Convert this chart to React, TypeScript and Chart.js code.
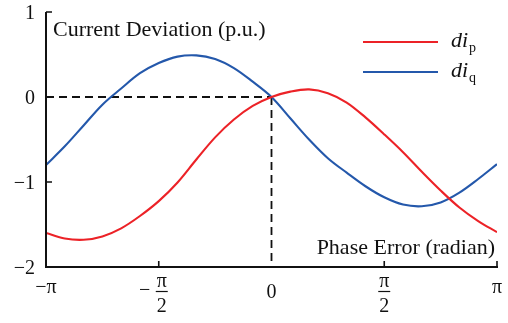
import { useEffect, useRef } from "react";
import { Chart, registerables } from "chart.js";

Chart.register(...registerables);

const PI = Math.PI;

// Phase error samples, in twelfths of π (−π … π)
const phaseTwelfths = [
  -12, -11, -10, -9, -8, -7, -6, -5, -4, -3, -2, -1, 0,
  1, 2, 3, 4, 5, 6, 7, 8, 9, 10, 11, 12,
];

// Current deviation of the p-axis component (p.u.)
const diP = [
  -1.6, -1.665, -1.68, -1.64, -1.545, -1.4, -1.225, -1.005, -0.735, -0.475,
  -0.265, -0.105, 0.0, 0.063, 0.09, 0.045, -0.065, -0.24, -0.44, -0.65,
  -0.88, -1.1, -1.3, -1.46, -1.59,
];

// Current deviation of the q-axis component (p.u.)
const diQ = [
  -0.8, -0.58, -0.335, -0.09, 0.1, 0.28, 0.4, 0.475, 0.49, 0.447, 0.34, 0.18,
  0.0, -0.25, -0.5, -0.72, -0.89, -1.05, -1.18, -1.265, -1.285, -1.24,
  -1.125, -0.965, -0.79,
];

// Axis ticks
const xTickMultiples = [-1, -0.5, 0, 0.5, 1]; // multiples of π
const xTickLabels = ["−π", "−π/2", "0", "π/2", "π"];
const yTickValues = [1, 0, -1, -2];
const yTickLabels = ["1", "0", "−1", "−2"];

const seriesNames = ["p", "q"];
const seriesColors = ["#ec2227", "#2458ab"];

const SERIF = '"Liberation Serif", "Times New Roman", serif';

const decorations = {
  id: "decorations",
  beforeDatasetsDraw(chart: any) {
    const { ctx } = chart;
    const x = chart.scales.x;
    const y = chart.scales.y;
    const x0 = x.getPixelForValue(0);
    const y0 = y.getPixelForValue(0);
    ctx.save();
    ctx.strokeStyle = "#111";
    ctx.lineWidth = 1.8;
    ctx.setLineDash([8, 5]);
    ctx.beginPath();
    ctx.moveTo(x.getPixelForValue(-PI), y0);
    ctx.lineTo(x0, y0);
    ctx.moveTo(x0, y0);
    ctx.lineTo(x0, y.getPixelForValue(-2));
    ctx.stroke();
    ctx.restore();
  },
  afterDraw(chart: any) {
    const { ctx } = chart;
    const x = chart.scales.x;
    const y = chart.scales.y;
    const left = x.getPixelForValue(-PI);
    const right = x.getPixelForValue(PI);
    const top = y.getPixelForValue(1);
    const bottom = y.getPixelForValue(-2);

    ctx.save();
    ctx.strokeStyle = "#111";
    ctx.fillStyle = "#111";
    ctx.setLineDash([]);

    // axis lines
    ctx.lineWidth = 2;
    ctx.beginPath();
    ctx.moveTo(left, top);
    ctx.lineTo(left, bottom);
    ctx.lineTo(right + 1, bottom);
    ctx.stroke();

    // inward ticks
    ctx.lineWidth = 1.6;
    ctx.beginPath();
    yTickValues.forEach((v) => {
      if (v === 0 || v === -2) return;
      const py = y.getPixelForValue(v);
      ctx.moveTo(left, py);
      ctx.lineTo(left + 6, py);
    });
    xTickMultiples.forEach((m) => {
      if (m === 0 || m === -1) return;
      const px = x.getPixelForValue(m * PI);
      ctx.moveTo(px, bottom);
      ctx.lineTo(px, bottom - 6);
    });
    ctx.stroke();

    // y tick labels
    ctx.font = `20px ${SERIF}`;
    ctx.textAlign = "right";
    ctx.textBaseline = "alphabetic";
    yTickValues.forEach((v, i) => {
      ctx.fillText(yTickLabels[i], 35, y.getPixelForValue(v) + 6.5);
    });

    // x tick labels (fractions drawn stacked)
    xTickMultiples.forEach((m, i) => {
      const px = x.getPixelForValue(m * PI);
      const label = xTickLabels[i];
      ctx.font = `20px ${SERIF}`;
      if (label.includes("/")) {
        let body = label;
        let cx = px;
        if (body.startsWith("−")) {
          body = body.slice(1);
          cx = px + 3;
          ctx.textAlign = "center";
          ctx.fillText("−", px - 14, 296);
        }
        const [num, den] = body.split("/");
        ctx.textAlign = "center";
        ctx.fillText(num, cx, 287);
        ctx.fillText(den, cx, 312);
        ctx.lineWidth = 1.2;
        ctx.beginPath();
        ctx.moveTo(cx - 6, 291.5);
        ctx.lineTo(cx + 6, 291.5);
        ctx.stroke();
      } else {
        ctx.textAlign = "center";
        ctx.fillText(label, px, label === "0" ? 298 : 293);
      }
    });

    // axis titles
    ctx.font = `22px ${SERIF}`;
    ctx.textAlign = "left";
    ctx.fillText("Current Deviation (p.u.)", 53, 36);
    ctx.textAlign = "right";
    ctx.fillText("Phase Error (radian)", 495, 254);

    // legend
    seriesNames.forEach((name, i) => {
      const ly = 42 + i * 30;
      ctx.strokeStyle = seriesColors[i];
      ctx.lineWidth = 2;
      ctx.beginPath();
      ctx.moveTo(363, ly);
      ctx.lineTo(438, ly);
      ctx.stroke();
      ctx.fillStyle = "#111";
      ctx.textAlign = "left";
      ctx.font = `italic 22px ${SERIF}`;
      ctx.fillText("di", 451, ly + 5);
      const w = ctx.measureText("di").width;
      ctx.font = `14px ${SERIF}`;
      ctx.fillText(name, 451 + w + 1, ly + 10);
    });

    ctx.restore();
  },
};

export default function App() {
  const canvasRef = useRef<HTMLCanvasElement | null>(null);

  useEffect(() => {
    const canvas = canvasRef.current;
    if (!canvas) return;
    const phase = phaseTwelfths.map((k) => (k * PI) / 12);
    const chart = new Chart(canvas, {
      type: "line",
      data: {
        datasets: [
          {
            label: "dip",
            data: phase.map((p, i) => ({ x: p, y: diP[i] })),
            borderColor: seriesColors[0],
            borderWidth: 2.1,
            pointRadius: 0,
            tension: 0.35,
          },
          {
            label: "diq",
            data: phase.map((p, i) => ({ x: p, y: diQ[i] })),
            borderColor: seriesColors[1],
            borderWidth: 2.1,
            pointRadius: 0,
            tension: 0.35,
          },
        ],
      },
      options: {
        animation: false,
        responsive: false,
        maintainAspectRatio: false,
        layout: { padding: { left: 46, right: 11, top: 12, bottom: 56 } },
        scales: {
          x: { type: "linear", min: -PI, max: PI, display: false },
          y: { type: "linear", min: -2, max: 1, display: false },
        },
        plugins: {
          legend: { display: false },
          tooltip: { enabled: false },
        },
      },
      plugins: [decorations],
    });
    return () => chart.destroy();
  }, []);

  return (
    <div style={{ position: "fixed", left: 0, top: 0, width: 508, height: 323, background: "#fff" }}>
      <canvas ref={canvasRef} width={508} height={323} style={{ width: 508, height: 323 }} />
    </div>
  );
}
